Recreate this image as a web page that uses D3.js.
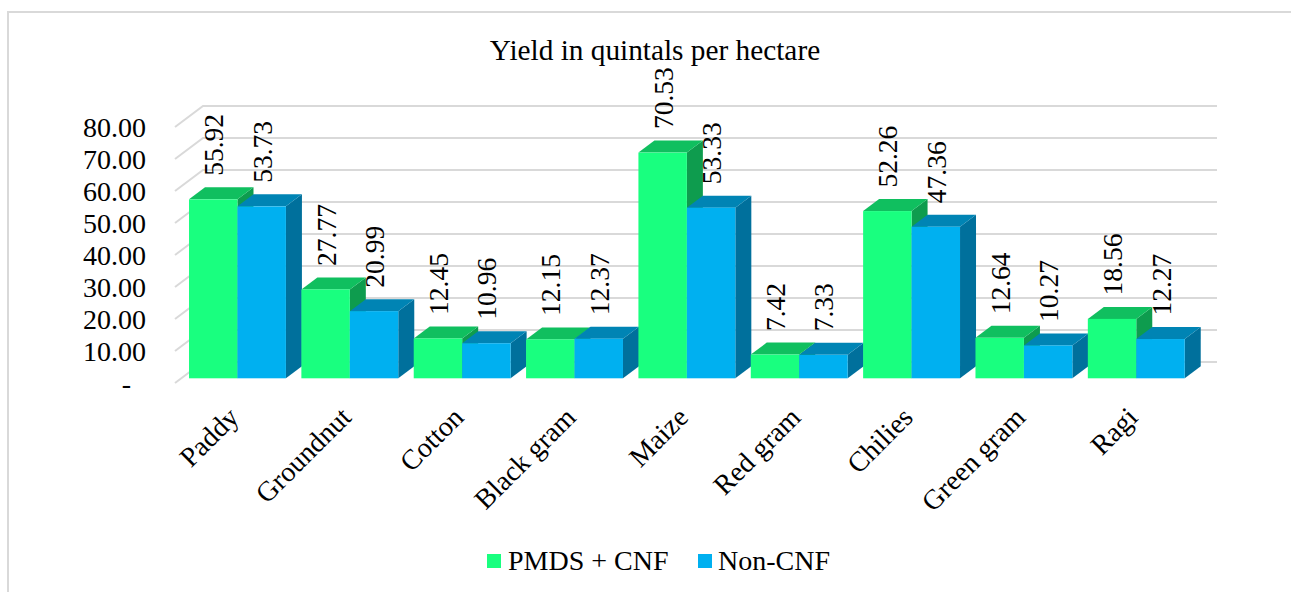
<!DOCTYPE html>
<html><head><meta charset="utf-8">
<script src="https://cdn.jsdelivr.net/npm/d3@7/dist/d3.min.js"></script>
<style>html,body{margin:0;padding:0;background:#fff;overflow:hidden}svg{display:block}text{font-family:"Liberation Serif",serif;fill:#000}</style>
</head><body><svg id="c" width="1291" height="592"></svg>
<script>
const categories=["Paddy","Groundnut","Cotton","Black gram","Maize","Red gram","Chilies","Green gram","Ragi"];
const pmds=[55.92,27.77,12.45,12.15,70.53,7.42,52.26,12.64,18.56];
const nonCnf=[53.73,20.99,10.96,12.37,53.33,7.33,47.36,10.27,12.27];
const seriesNames=["PMDS + CNF","Non-CNF"];
const seriesFront=["#19ff7f","#00b0f0"];
const seriesTop=["#10bf5f","#0084b4"];
const seriesSide=["#0e9c4e","#00709c"];
const tickValues=[0,10,20,30,40,50,60,70,80];
const titleText="Yield in quintals per hectare";

const svg=d3.select("#c");
// frame
svg.append("path").attr("d","M8,592V12H1291").attr("fill","none").attr("stroke","#d9d9d9").attr("stroke-width",2);
svg.append("text").attr("x",655).attr("y",60).attr("text-anchor","middle").attr("font-size",29.3).text(titleText);

const y=d3.scaleLinear().domain([0,80]).range([383,127]);
const x=d3.scaleBand().domain(categories).range([181.3,181.3+112.35*9]);
const wallX0=203,wallX1=1217,floorX=175,wallDy=21;
const grid=svg.append("g").attr("fill","none").attr("stroke","#d9d9d9").attr("stroke-width",2);
tickValues.forEach(v=>{
  grid.append("path").attr("d",`M${floorX},${y(v)}L${wallX0},${y(v)-wallDy}H${wallX1}`);
});
// y axis
const axis=d3.axisLeft(y).tickValues(tickValues).tickSize(0).tickPadding(0)
  .tickFormat(v=>v===0?"-":d3.format(".2f")(v));
const ga=svg.append("g").attr("transform","translate(146,1)").call(axis);
ga.select(".domain").remove();
ga.selectAll("text").attr("font-size",28).attr("font-family","Liberation Serif").attr("fill","#000")
  .attr("dx",d=>d===0?-15:0);

const baseOff=-4.7;
const barW=48.45,dx=16,dy=12;
const yb=v=>y(v)+baseOff;
const barsG=svg.append("g");
const labels=[];
categories.forEach((c,i)=>{
  [pmds[i],nonCnf[i]].forEach((v,s)=>{
    const cx=x(c)+x.bandwidth()/2;
    const x0=cx+(s-1)*barW, x1=x0+barW, t=yb(v), b=yb(0);
    const g=barsG.append("g");
    g.append("path").attr("fill",seriesSide[s]).attr("d",`M${x1},${b}L${x1+dx},${b-dy}V${t-dy}L${x1},${t}Z`);
    g.append("path").attr("fill",seriesTop[s]).attr("d",`M${x0},${t}L${x0+dx},${t-dy}H${x1+dx}L${x1},${t}Z`);
    g.append("rect").attr("x",x0).attr("y",t).attr("width",barW).attr("height",b-t).attr("fill",seriesFront[s]);
    labels.push({v,x:(x0+x1)/2+10,y:t-23.5});
  });
});
svg.append("g").selectAll("text").data(labels).join("text")
  .attr("transform",d=>`translate(${d.x},${d.y}) rotate(-90)`)
  .attr("font-size",27.5).text(d=>d.v.toFixed(2));
// category labels
svg.append("g").selectAll("text").data(categories).join("text")
  .attr("transform",c=>`translate(${x(c)+x.bandwidth()/2+3},${419}) rotate(-45)`)
  .attr("text-anchor","end").attr("font-size",28).text(c=>c);
// legend
const legendX=[487,698], legendTextX=[508,718];
seriesNames.forEach((n,s)=>{
  svg.append("rect").attr("x",legendX[s]).attr("y",554).attr("width",14).attr("height",14).attr("fill",seriesFront[s]);
  svg.append("text").attr("x",legendTextX[s]).attr("y",570).attr("font-size",28).text(n);
});
</script></body></html>
